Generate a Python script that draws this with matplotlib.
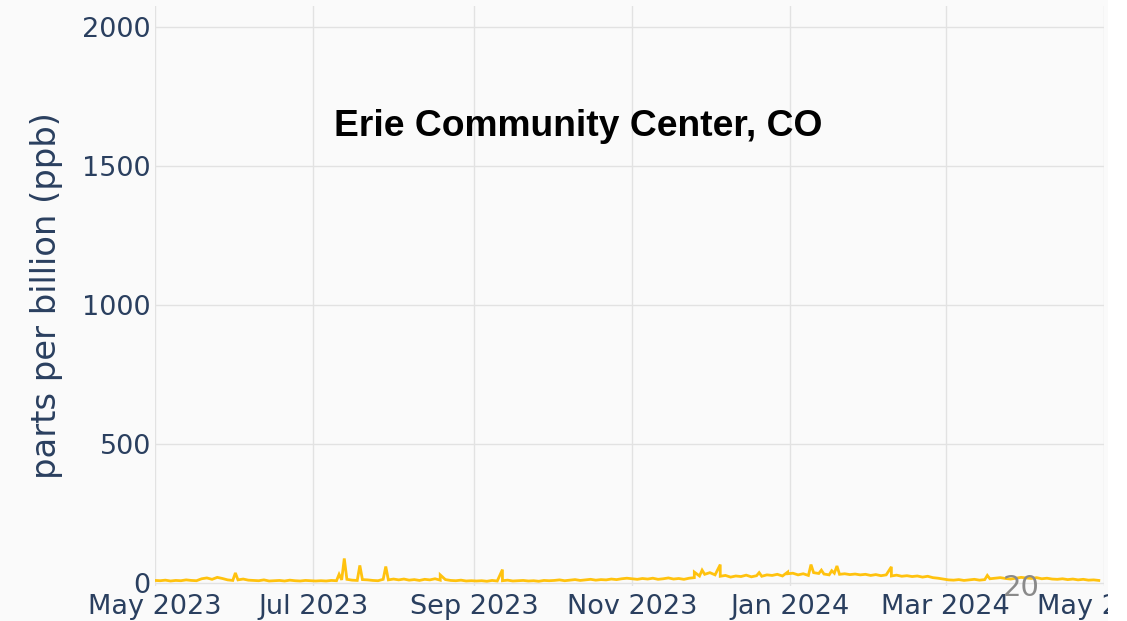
import matplotlib
matplotlib.use("Agg")
import matplotlib.pyplot as plt
import matplotlib.dates as mdates
import numpy as np
import pandas as pd

title = "Erie Community Center, CO"
y_label = "parts per billion (ppb)"
y_ticks = [0, 500, 1000, 1500, 2000]
x_tick_dates = ["2023-05-01", "2023-07-01", "2023-09-01", "2023-11-01",
                "2024-01-01", "2024-03-01", "2024-05-01"]

start_date = "2023-05-01"
step_days = 2
base_may = [10, 9, 11, 8, 10, 9, 12, 10, 9, 16, 19, 14, 21, 17, 12, 10]
base_jun = [12, 15, 11, 10, 9, 12, 8, 9, 10, 8, 11, 9, 8, 10, 9]
base_jul = [8, 9, 8, 10, 9, 12, 14, 11, 10, 13, 12, 10, 9, 14, 12, 15]
base_aug = [12, 15, 11, 13, 10, 14, 12, 16, 11, 13, 10, 9, 11, 8, 9]
base_sep = [8, 9, 7, 10, 8, 9, 11, 8, 9, 10, 8, 9, 7, 10, 9]
base_oct = [10, 12, 9, 11, 13, 10, 12, 14, 11, 13, 12, 15, 13, 16, 18]
base_nov = [16, 14, 17, 15, 18, 14, 16, 19, 15, 17, 14, 18, 20, 26, 32]
base_dec = [38, 30, 25, 28, 22, 26, 24, 29, 23, 27, 25, 30, 28, 32, 26, 34]
base_jan = [36, 30, 34, 28, 38, 35, 33, 30, 36, 32, 34, 31, 33, 30, 32]
base_feb = [28, 31, 27, 30, 26, 29, 25, 27, 24, 26, 22, 25, 20, 18, 15]
base_mar = [12, 11, 13, 10, 12, 14, 11, 13, 16, 18, 20, 17, 15, 18, 21]
base_apr = [19, 17, 20, 16, 18, 15, 14, 16, 13, 15, 12, 14, 11, 12, 10]

spike_dates = ["2023-06-01", "2023-07-11", "2023-07-13", "2023-07-19", "2023-07-29",
               "2023-08-19", "2023-09-12", "2023-11-25", "2023-11-28", "2023-12-05",
               "2023-12-20", "2023-12-31", "2024-01-09", "2024-01-13", "2024-01-17",
               "2024-01-19", "2024-02-09", "2024-03-17"]
spike_ppb = [37, 32, 89, 64, 60, 30, 49, 40, 47, 67, 38, 40, 67, 47, 45, 62, 59, 28]

base_vals = (base_may + base_jun + base_jul + base_aug + base_sep + base_oct +
             base_nov + base_dec + base_jan + base_feb + base_mar + base_apr)
base_idx = pd.date_range(start_date, periods=len(base_vals), freq=f"{step_days}D")
s = pd.concat([pd.Series(base_vals, index=base_idx),
               pd.Series(spike_ppb, index=pd.to_datetime(spike_dates))]).sort_index()

W, H = 1127, 621
fig = plt.figure(figsize=(W / 100, H / 100), dpi=100)
fig.patch.set_facecolor("#fafafa")
left, right, top, bottom = 155, 1104, 6, 586
ax = fig.add_axes([left / W, 1 - bottom / H, (right - left) / W, (bottom - top) / H])
ax.set_facecolor("#fafafa")

ax.plot(s.index, s.values, color="#FFC20E", lw=2.0, zorder=3, solid_joinstyle="miter")

ax.set_ylim(-10, 2075)
ax.set_xlim(pd.Timestamp("2023-05-01"), pd.Timestamp("2024-04-29"))
ax.set_yticks(y_ticks)
ax.set_xticks(pd.to_datetime(x_tick_dates))
ax.xaxis.set_major_formatter(mdates.DateFormatter("%b %Y"))
ax.grid(True, color="#e2e2e2", lw=1, zorder=0)
for sp in ax.spines.values():
    sp.set_visible(False)
ax.tick_params(length=0, labelsize=19.5, labelcolor="#2a3f5f")
ax.tick_params(axis="y", pad=3)
ax.tick_params(axis="x", pad=6)
for lab in ax.get_xticklabels():
    lab.set_clip_on(False)
ax.set_ylabel(y_label, fontsize=24.3, color="#2a3f5f", labelpad=14)

fig.text(578 / W, 1 - 127 / H, title, ha="center", va="center",
         fontsize=26.8, fontweight="bold", family="Liberation Sans", color="black")
fig.text(1021 / W, 1 - 588 / H, "20", ha="center", va="center",
         fontsize=21, color="#8a8a8a", zorder=5)

# white strip at the right edge (cropped screenshot)
fig.patches.append(plt.Rectangle((1108 / W, 0), 1, 1, transform=fig.transFigure,
                                 facecolor="white", edgecolor="none", zorder=10))

fig.savefig("out.png", dpi=100, facecolor=fig.get_facecolor())
